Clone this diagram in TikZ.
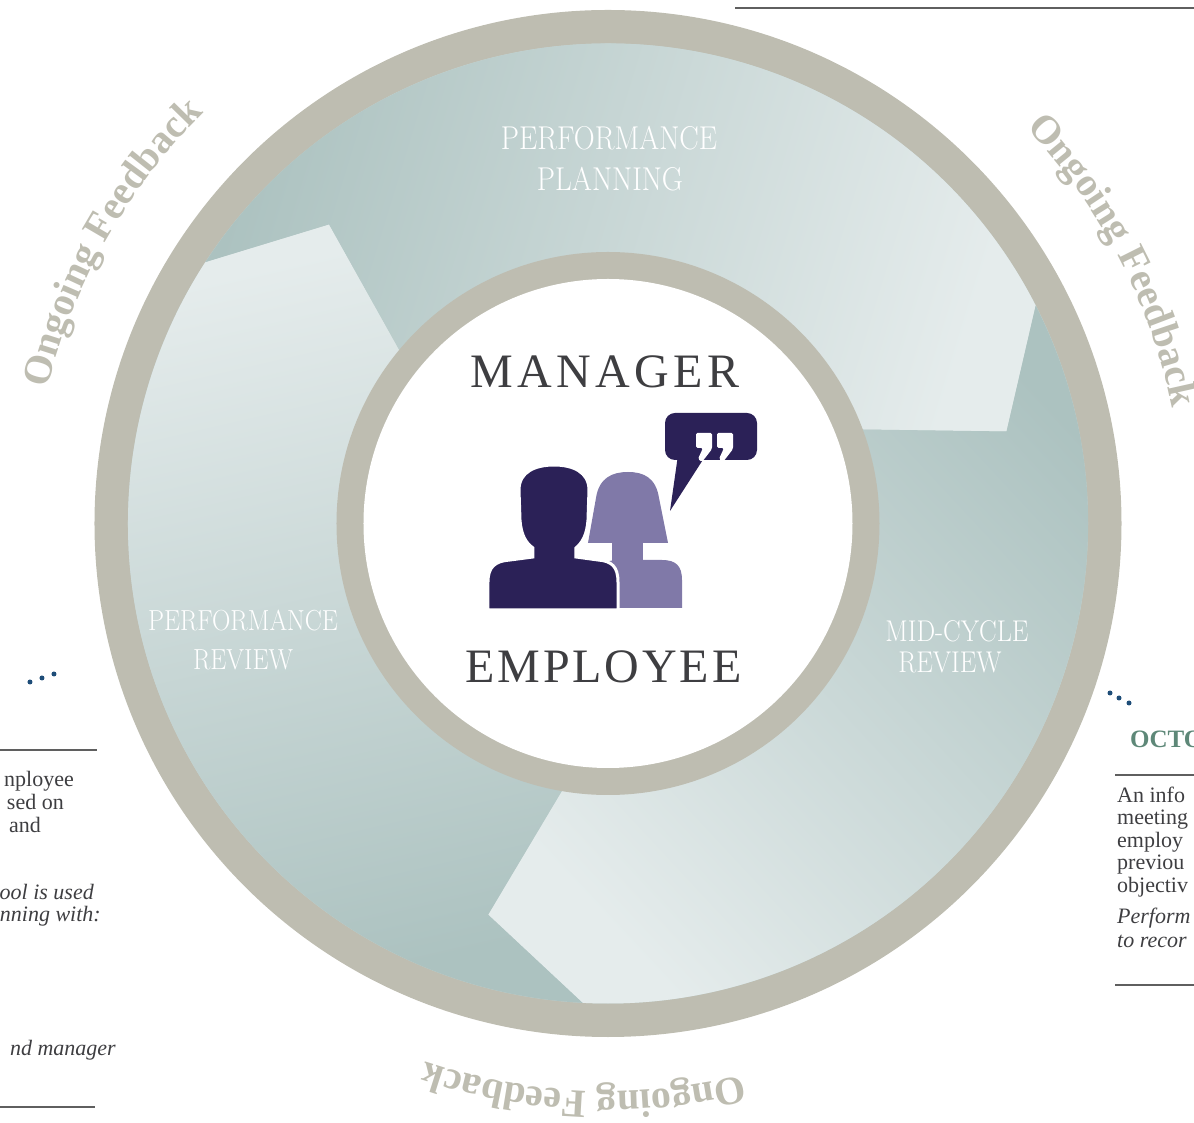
\documentclass[tikz,border=0pt]{standalone}
\usepackage{fontspec}
\setmainfont{Liberation Serif}
\usetikzlibrary{decorations.text}

\definecolor{ringgray}{RGB}{190,189,177}
\definecolor{tealdark}{RGB}{172,194,192}
\definecolor{teallight}{RGB}{229,236,236}
\definecolor{inktext}{RGB}{62,62,65}
\definecolor{mannavy}{RGB}{43,33,87}
\definecolor{womanlilac}{RGB}{128,121,168}
\definecolor{dotblue}{RGB}{30,77,120}
\definecolor{monthgreen}{RGB}{94,136,120}
\definecolor{rulegray}{RGB}{95,95,95}

\newcommand\stagefamily{\fontfamily{lmr}\selectfont}
\newcommand\squeeze[1]{\scalebox{0.88}[1]{#1}}
\newcommand\fbfont{\fontsize{40}{40}\selectfont\bfseries\color{ringgray}}

\tikzset{
  stagelabel/.style={white, inner sep=0pt},
  rolelabel/.style={inktext, inner sep=0pt},
  sidetext/.style={inktext, inner sep=0pt, font=\fontsize{22}{22}\selectfont},
  siderule/.style={rulegray, line width=2.5},
}

\begin{document}
\begin{tikzpicture}[x=1pt, y=1pt]
  \useasboundingbox (-608,-599.5) rectangle (586,523.5);

  \def\rin{271};
  \def\rout{480};
  \def\rtip{409};
  \def\din{7.3};
  \def\dout{14};

  %outer ring
  \fill[ringgray] (0,0) circle[radius=513.5];
  \fill[tealdark!50!teallight, even odd rule] (0,0) circle[radius=\rout] (0,0) circle[radius=\rin];

  %stages
  \foreach \t in {133,13,253}{
    \pgfmathsetmacro\tl{\t+120}
    \pgfmathsetmacro\sa{\t-120}
    \shade[top color=teallight, bottom color=tealdark, shading angle=\sa]
      ({\tl+\dout}:\rout) arc[start angle=\tl+\dout, end angle=\t+\dout, radius=\rout]
      -- (\t:\rtip) -- ({\t+\din}:\rin)
      arc[start angle=\t+\din, end angle=\tl+\din, radius=\rin]
      -- (\tl:\rtip) -- cycle;
  }

  %inner ring
  \fill[ringgray] (0,0) circle[radius=271.5];
  \fill[white] (0,0) circle[radius=244.5];

  %stage labels
  \foreach \x/\y/\s/\txt/\name in {1/385.5/33/PERFORMANCE/plan1, 2/344.5/33/PLANNING/plan2,
      -365/-96.5/29/PERFORMANCE/rev1, -365/-136.5/29/REVIEW/rev2,
      349/-107.5/30/MID-CYCLE/mid1, 342/-138.5/30/REVIEW/mid2}{
    \node[stagelabel, font=\stagefamily\fontsize{\s}{\s}\selectfont] (\name) at (\x,\y) {\squeeze{\txt}};
  }

  %roles
  \node[rolelabel, font=\fontsize{48}{48}\selectfont\addfontfeature{LetterSpace=9}] (manager) at (-3,152) {MANAGER};
  \node[rolelabel, font=\fontsize{48}{48}\selectfont\addfontfeature{LetterSpace=6}] (employee) at (-4.5,-143) {EMPLOYEE};

  %ongoing feedback
  \foreach \a/\r in {150.5/576, 27.5/576, 267.5/568}{
    \path[decorate, decoration={text along path, text align=center, text={|\fbfont|Ongoing Feedback}}]
      ({\a+30}:\r) arc[start angle=\a+30, end angle=\a-30, radius=\r];
  }

  \begin{scope}[shift={(-608,523.5)}, yscale=-1]
    %icon
    \fill[womanlilac] (588,543) -- (596,498) .. controls (599,478) and (612,472) .. (628,472)
      .. controls (644,472) and (656,478) .. (659,498) -- (668,543) -- cycle;
    \fill[womanlilac] (612,538) rectangle (643,562);
    \fill[womanlilac] (598,608) -- (598,580) .. controls (598,566) and (604,560) .. (618,560)
      -- (662,560) .. controls (676,560) and (682,566) .. (682,580) -- (682,608) -- cycle;
    \filldraw[fill=mannavy, draw=white, line width=3]
      (488,610) -- (488,582) .. controls (488,567) and (495,561) .. (510,560)
      -- (533,557) -- (533,548)
      .. controls (526,543) and (521,535) .. (520,520)
      -- (519,490) .. controls (519,472) and (535,465) .. (554,465)
      .. controls (573,465) and (589,472) .. (589,490)
      -- (588,520) .. controls (587,535) and (582,543) .. (576,548)
      -- (576,557) -- (598,560) .. controls (612,561) and (618,567) .. (618,582)
      -- (618,610) -- cycle;
    \fill[mannavy, rounded corners=10] (665,413) rectangle (757,460);
    \fill[mannavy] (678,455) -- (670,511) -- (706,455) -- cycle;
    \foreach \qx in {696,717}{
      \fill[white, rounded corners=1.5] (\qx,433) -- (\qx+16,433) -- (\qx+16,449) -- (\qx+6,462)
        -- (\qx+2,459) -- (\qx+7,448) -- (\qx,448) -- cycle;
    }

    %left column
    \foreach \dx/\dy in {30/682, 42/678, 54/674}{
      \fill[dotblue] (\dx,\dy) circle[radius=2.5];
    }
    \draw[siderule] (0,750) -- (97,750);
    \foreach \txt/\xe/\yb/\name in {nployee/74/787/l1, sed on/64/810/l2, and/41/833/l3}{
      \node[sidetext, anchor=base east] (\name) at (\xe,\yb) {\txt};
    }
    \foreach \txt/\xe/\yb/\name in {ool is used/94/900/l4, nning with:/101/922/l5, nd manager/116/1055/l6}{
      \node[sidetext, anchor=base east] (\name) at (\xe,\yb) {\itshape\txt};
    }
    \draw[siderule] (0,1107) -- (95,1107);

    %right column
    \draw[siderule] (735,8) -- (1194,8);
    \foreach \dx/\dy in {1110/693, 1119/698, 1129/703}{
      \fill[dotblue] (\dx,\dy) circle[radius=2.5];
    }
    \node[monthgreen, inner sep=0pt, anchor=base west, font=\fontsize{25}{25}\selectfont\bfseries] (month) at (1130,748) {OCTO};
    \draw[siderule] (1115,775) -- (1194,775);
    \foreach \txt/\yb/\name in {An info/803/r1, meeting/825/r2, employ/848/r3, previou/870/r4, objectiv/893/r5}{
      \node[sidetext, anchor=base west] (\name) at (1117,\yb) {\txt};
    }
    \foreach \txt/\yb/\name in {Perform/923/r6, to recor/947/r7}{
      \node[sidetext, anchor=base west] (\name) at (1117,\yb) {\itshape\txt};
    }
    \draw[siderule] (1115,985) -- (1194,985);
  \end{scope}

\end{tikzpicture}
\end{document}
